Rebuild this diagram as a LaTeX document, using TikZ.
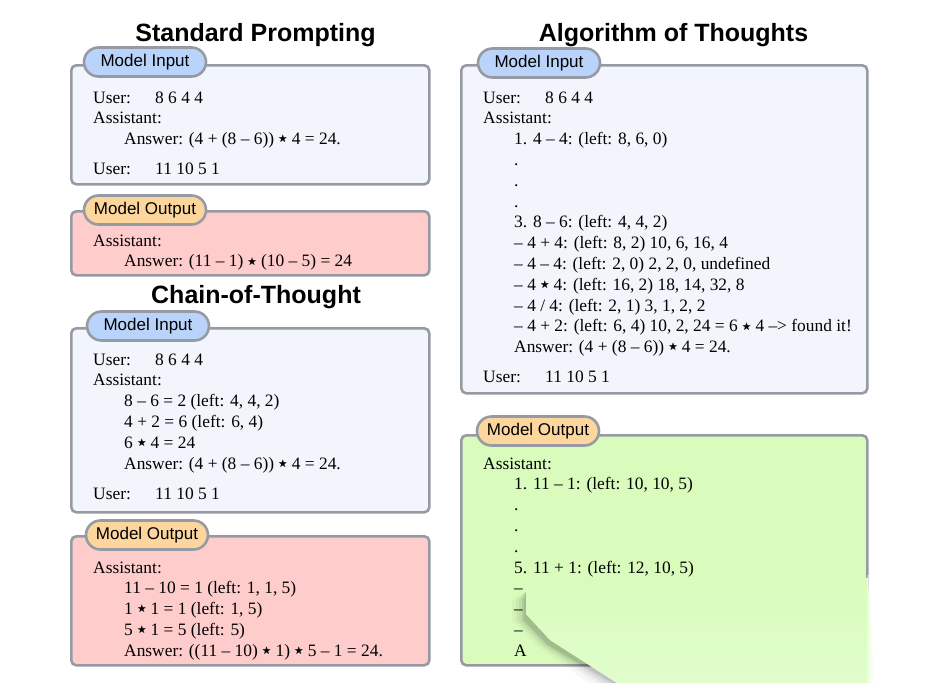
\documentclass[tikz,border=0pt]{standalone}
\usepackage{fontspec}
\usepackage{amssymb}
\setmainfont{Liberation Serif}
\setsansfont{Liberation Sans}
\usetikzlibrary{shapes.misc}
\definecolor{bordergray}{RGB}{150,155,163}
\definecolor{inbg}{RGB}{242,245,251}
\definecolor{intab}{RGB}{185,211,250}
\definecolor{outtab}{RGB}{253,214,158}
\definecolor{pinkbg}{RGB}{255,204,204}
\definecolor{greenbg}{RGB}{217,252,188}
\definecolor{greenov}{RGB}{224,253,204}
\newcommand\usrline[1]{\makebox[62pt][l]{User:}#1}
\newcommand\sstar{\raisebox{0.35ex}{\scalebox{0.55}{$\bigstar$}}}
\tikzset{
  panel/.style={draw=bordergray, line width=2.6pt, rounded corners=5pt, anchor=north west, inner sep=0pt},
  tabbox/.style={draw=bordergray, line width=2.6pt, rounded rectangle, minimum width=122pt, minimum height=29pt, inner sep=0pt, font=\sffamily\fontsize{17}{18}\selectfont},
  intabbox/.style={tabbox, fill=intab},
  outtabbox/.style={tabbox, fill=outtab},
  titletext/.style={font=\sffamily\bfseries\fontsize{25}{28}\selectfont, anchor=base, inner sep=0pt},
  txt/.style={anchor=base west, inner sep=0pt, font=\rmfamily\fontsize{17.4}{20}\selectfont},
}
\begin{document}
\begin{tikzpicture}[x=1pt,y=-1pt]
\useasboundingbox[fill=white] (0,0) rectangle (945,683);
% titles
\node[titletext] (t1) at (255.5,41) {Standard Prompting};
\node[titletext] (t2) at (256,303) {Chain-of-Thought};
\node[titletext] (t3) at (673.5,41) {Algorithm of Thoughts};
% panels
\node[panel, fill=inbg, minimum width=358pt, minimum height=119pt] (spin) at (70,64) {};
\node[panel, fill=pinkbg, minimum width=358pt, minimum height=64pt] (spout) at (70,210) {};
\node[panel, fill=inbg, minimum width=358pt, minimum height=184pt] (cotin) at (70,327) {};
\node[panel, fill=pinkbg, minimum width=358pt, minimum height=129pt] (cotout) at (70,535) {};
\node[panel, fill=inbg, minimum width=406pt, minimum height=328pt] (aotin) at (460,64) {};
\node[panel, fill=greenbg, minimum width=406pt, minimum height=230pt] (aotout) at (460,434) {};
% tabs
\node[intabbox] (spintab) at (145,62) {Model Input};
\node[outtabbox] (spouttab) at (145,210) {Model Output};
\node[intabbox] (cotintab) at (148,326) {Model Input};
\node[outtabbox] (cotouttab) at (147,535) {Model Output};
\node[intabbox] (aotintab) at (539,63) {Model Input};
\node[outtabbox] (aotouttab) at (538,431) {Model Output};
% standard prompting
\node[txt] (a1) at (93,103) {\usrline{8 6 4 4}};
\node[txt] (a2) at (93,123.8) {Assistant:};
\node[txt] (a3) at (124,144.6) {Answer: (4 + (8 -- 6)) \sstar{} 4 = 24.};
\node[txt] (a4) at (93,174) {\usrline{11 10 5 1}};
\node[txt] (b1) at (93,246) {Assistant:};
\node[txt] (b2) at (124,266.8) {Answer: (11 -- 1) \sstar{} (10 -- 5) = 24};
% chain of thought
\node[txt] (c1) at (93,365) {\usrline{8 6 4 4}};
\node[txt] (c2) at (93,385.8) {Assistant:};
\node[txt] (c3) at (124,406.6) {8 -- 6 = 2 (left: 4, 4, 2)};
\node[txt] (c4) at (124,427.4) {4 + 2 = 6 (left: 6, 4)};
\node[txt] (c5) at (124,448.2) {6 \sstar{} 4 = 24};
\node[txt] (c6) at (124,469) {Answer: (4 + (8 -- 6)) \sstar{} 4 = 24.};
\node[txt] (c7) at (93,499) {\usrline{11 10 5 1}};
\node[txt] (d1) at (93,573) {Assistant:};
\node[txt] (d2) at (124,593.8) {11 -- 10 = 1 (left: 1, 1, 5)};
\node[txt] (d3) at (124,614.6) {1 \sstar{} 1 = 1 (left: 1, 5)};
\node[txt] (d4) at (124,635.4) {5 \sstar{} 1 = 5 (left: 5)};
\node[txt] (d5) at (124,656.2) {Answer: ((11 -- 10) \sstar{} 1) \sstar{} 5 -- 1 = 24.};
% algorithm of thoughts input
\node[txt] (e1) at (483,103) {\usrline{8 6 4 4}};
\node[txt] (e2) at (483,123.8) {Assistant:};
\node[txt] (e3) at (514,144.6) {1. 4 -- 4: (left: 8, 6, 0)};
\node[txt] (e4) at (514,165.4) {.};
\node[txt] (e5) at (514,186.2) {.};
\node[txt] (e6) at (514,207) {.};
\node[txt] (e7) at (514,227.8) {3. 8 -- 6: (left: 4, 4, 2)};
\node[txt] (e8) at (514,248.6) {-- 4 + 4: (left: 8, 2) 10, 6, 16, 4};
\node[txt] (e9) at (514,269.4) {-- 4 -- 4: (left: 2, 0) 2, 2, 0, undefined};
\node[txt] (e10) at (514,290.2) {-- 4 \sstar{} 4: (left: 16, 2) 18, 14, 32, 8};
\node[txt] (e11) at (514,311) {-- 4 / 4: (left: 2, 1) 3, 1, 2, 2};
\node[txt] (e12) at (514,331.8) {-- 4 + 2: (left: 6, 4) 10, 2, 24 = 6 \sstar{} 4 --{}> found it!};
\node[txt] (e13) at (514,352.6) {Answer: (4 + (8 -- 6)) \sstar{} 4 = 24.};
\node[txt] (e14) at (483,382.6) {\usrline{11 10 5 1}};
% algorithm of thoughts output
\node[txt] (f1) at (483,469) {Assistant:};
\node[txt] (f2) at (514,489.8) {1. 11 -- 1: (left: 10, 10, 5)};
\node[txt] (f3) at (514,510.6) {.};
\node[txt] (f4) at (514,531.4) {.};
\node[txt] (f5) at (514,552.2) {.};
\node[txt] (f6) at (514,573) {5. 11 + 1: (left: 12, 10, 5)};
\node[txt] (f7) at (514,593.8) {--};
\node[txt] (f8) at (514,614.6) {--};
\node[txt] (f9) at (514,635.4) {--};
\node[txt] (f10) at (514,656.2) {A};
% overlay covering the lower right corner, with a soft shadow on its left edge
\foreach \d/\o in {14/0.03,10/0.04,7/0.05,4/0.07,2/0.08}{
  \fill[black, opacity=\o] (526,592) -- (526,614) -- (550,640) -- (617,683)
     -- (617-2*\d,683) -- (550-\d,645) -- (526-\d,620) -- (526-\d,600) -- cycle;
}
\shade[top color=greenbg, bottom color=greenov] (526,582) -- (868,578) -- (874,683) -- (617,683) -- (550,640) -- (526,614) -- cycle;
\foreach \d/\o in {1/0.4,3/0.6,5/0.8,7/1}{
  \fill[white, opacity=\o] (866+\d,575) rectangle (869+\d,683);
}
\end{tikzpicture}
\end{document}
